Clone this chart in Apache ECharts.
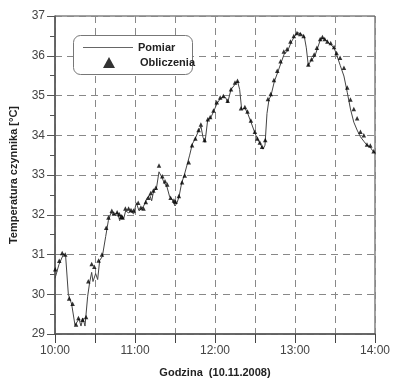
<!DOCTYPE html>
<html>
<head>
<meta charset="utf-8">
<script src="https://cdn.jsdelivr.net/npm/echarts@6/dist/echarts.min.js"></script>
<style>
  html, body { margin: 0; padding: 0; background: #fff; }
  #chart { width: 393px; height: 383px; }
</style>
</head>
<body>
<div id="chart"></div>
<script>
// minutes after 10:00
const pomiarT = [0, 3, 6.5, 8, 10, 12.5, 15, 16.5, 18, 19.5, 21, 22.5, 24.5, 26, 27.5, 28.5, 30.5, 32, 33.5, 35.5,
  38, 40, 42, 44, 45.5, 47, 48.5, 50, 51.5, 53, 55, 57, 59, 61, 63, 65, 67, 69, 71, 72.5,
  74, 76, 78, 80, 82, 84, 86, 88, 90, 91.5, 93, 95, 97, 99, 101, 103, 105, 107.5, 109.5, 111,
  112.5, 114.5, 116.5, 119, 121.5, 124, 126.3, 128, 129.5, 132, 135, 137, 138.5, 140, 142.5, 144.5, 147, 150, 152, 154,
  156, 157.5, 159, 160.5, 162, 164.5, 167, 169.5, 172, 174.5, 177, 179.5, 182, 184.5, 187, 188.5, 190, 191.5, 193, 195,
  197, 199, 201, 203, 205, 207, 209.5, 211.5, 214, 216.7, 219.2, 221.6, 224.1, 226.6, 229.1, 231.6, 234, 236.5, 238, 240];
const pomiarV = [30.40, 30.75, 31.02, 30.95, 30.00, 29.75, 29.22, 29.20, 29.38, 29.20, 29.40, 29.20, 29.95, 30.30, 30.55, 30.32, 30.52, 30.37, 30.85, 30.95,
  31.45, 31.85, 32.05, 32.00, 31.95, 32.05, 31.85, 32.00, 31.90, 32.10, 32.05, 32.08, 32.02, 32.30, 32.10, 32.15, 32.25, 32.42, 32.50, 32.35,
  32.60, 32.65, 33.08, 32.95, 32.80, 32.70, 32.45, 32.38, 32.22, 32.30, 32.45, 32.80, 33.00, 33.25, 33.50, 33.78, 33.90, 34.10, 34.22, 33.95,
  33.82, 34.38, 34.42, 34.60, 34.80, 34.92, 34.97, 34.95, 34.82, 35.15, 35.28, 35.35, 35.15, 34.65, 34.68, 34.55, 34.33, 34.05, 33.90, 33.78,
  33.65, 33.75, 34.55, 34.90, 35.00, 35.35, 35.58, 35.82, 36.05, 36.12, 36.33, 36.48, 36.58, 36.55, 36.48, 36.20, 35.75, 35.85, 35.90, 36.00,
  36.20, 36.40, 36.45, 36.40, 36.33, 36.28, 36.18, 36.00, 35.75, 35.49, 35.08, 34.66, 34.33, 34.13, 33.96, 33.85, 33.75, 33.70, 33.62, 33.55];

const oblT = [0.2, 3.2, 5.4, 7.7, 10.6, 13.2, 15.8, 17.6, 20.6, 23.3, 25.0, 27.5, 29.5, 32.7, 35.2, 38.4, 40.1, 42.6, 44.1, 46.6,
  48.3, 49.6, 50.7, 52.8, 55.2, 57.0, 58.9, 62.4, 64.4, 66.4, 68.1, 70.1, 71.8, 73.8, 75.6, 78.0, 80.5, 82.5, 84.2, 86.7,
  89.2, 90.4, 92.9, 95.3, 97.3, 100.3, 102.8, 105.3, 107.7, 109.4, 112.2, 114.6, 116.4, 118.9, 121.3, 123.9, 126.3, 129.5, 132.0, 135.0,
  136.9, 139.5, 142.4, 144.4, 146.9, 149.9, 151.8, 153.6, 155.3, 157.7, 159.7, 161.8, 164.2, 166.7, 169.2, 171.6, 174.1, 176.6, 179.1, 181.5,
  184.0, 186.5, 190.0, 192.4, 194.4, 196.4, 198.9, 200.6, 202.3, 204.3, 206.8, 209.3, 211.2, 213.8, 216.7, 219.2, 221.6, 224.1, 226.6, 229.1,
  231.6, 234.0, 236.5, 239.0];
const oblV = [30.63, 30.84, 31.04, 31.00, 29.89, 29.76, 29.24, 29.40, 29.36, 29.43, 30.33, 30.76, 30.69, 30.85, 31.00, 31.67, 31.93, 32.10, 32.03, 32.06,
  32.01, 31.95, 31.93, 32.16, 32.16, 32.12, 32.11, 32.30, 32.18, 32.16, 32.32, 32.43, 32.55, 32.61, 32.68, 33.24, 32.97, 32.84, 32.76, 32.43,
  32.36, 32.33, 32.47, 32.82, 32.99, 33.32, 33.75, 33.92, 34.13, 34.27, 33.88, 34.40, 34.46, 34.62, 34.83, 34.95, 34.99, 34.87, 35.16, 35.33,
  35.37, 34.68, 34.71, 34.60, 34.37, 34.09, 33.92, 33.82, 33.71, 33.88, 34.91, 35.04, 35.39, 35.62, 35.86, 36.11, 36.17, 36.36, 36.50, 36.57,
  36.55, 36.50, 35.78, 35.91, 36.03, 36.20, 36.42, 36.47, 36.42, 36.36, 36.32, 36.22, 36.07, 35.95, 35.70, 35.20, 34.90, 34.66, 34.43, 34.09,
  34.00, 33.77, 33.74, 33.60];

const pomiar = pomiarT.map((t, i) => [t, pomiarV[i]]);
const obliczenia = oblT.map((t, i) => [t, oblV[i]]);

const font = 'Liberation Sans';
const chart = echarts.init(document.getElementById('chart'));

chart.setOption({
  animation: false,
  backgroundColor: '#fff',
  textStyle: { fontFamily: font },
  grid: { left: 55, right: 15, top: 16, bottom: 45, show: true, borderColor: '#444', borderWidth: 1 },
  graphic: [{
    type: 'rect', left: 73, top: 35, z: 5,
    shape: { width: 119, height: 39, r: 7 },
    style: { fill: '#fff', stroke: '#777', lineWidth: 1 }
  }],
  legend: [{
    data: [{ name: 'Pomiar', icon: 'rect' }], left: 78, top: 36, z: 10,
    itemWidth: 50, itemHeight: 1, itemGap: 5,
    textStyle: { fontFamily: font, fontSize: 11, fontWeight: 'bold', color: '#222', lineHeight: 13 }
  }, {
    data: [{ name: 'Obliczenia', icon: 'triangle' }], left: 98, top: 52, z: 10,
    itemWidth: 12, itemHeight: 11,
    textStyle: { fontFamily: font, fontSize: 11, fontWeight: 'bold', color: '#222', padding: [0, 0, 0, 20] }
  }],
  xAxis: {
    type: 'value', min: 0, max: 240, interval: 30,
    name: 'Godzina  (10.11.2008)', nameLocation: 'middle', nameGap: 33,
    nameTextStyle: { fontFamily: font, fontSize: 11, fontWeight: 'bold', color: '#222' },
    axisLine: { lineStyle: { color: '#555', width: 1.5 } },
    axisTick: { length: 9, lineStyle: { color: '#444' } },
    axisLabel: {
      margin: 11, fontSize: 12, color: '#444',
      formatter: v => v % 60 === 0 ? (10 + v / 60) + ':00' : ''
    },
    splitLine: { lineStyle: { color: '#888', type: [7, 5], width: 1 } }
  },
  yAxis: {
    type: 'value', min: 29, max: 37, interval: 1,
    name: 'Temperatura czynnika [°C]', nameLocation: 'middle', nameGap: 36,
    nameTextStyle: { fontFamily: font, fontSize: 11, fontWeight: 'bold', color: '#222' },
    axisLine: { show: true, lineStyle: { color: '#555', width: 1.5 } },
    axisTick: { show: true, length: 8, lineStyle: { color: '#555' } },
    minorTick: { show: true, splitNumber: 2, length: 5, lineStyle: { color: '#555' } },
    axisLabel: { margin: 10, fontSize: 12, color: '#444' },
    splitLine: { lineStyle: { color: '#888', type: [7, 5], width: 1 } }
  },
  series: [{
    name: 'Pomiar', type: 'line', data: pomiar, symbol: 'none',
    lineStyle: { color: '#444', width: 1 }, itemStyle: { color: '#666' }, z: 3
  }, {
    name: 'Obliczenia', type: 'scatter', data: obliczenia, symbol: 'triangle', symbolSize: 4.5,
    itemStyle: { color: '#000' }, z: 4
  }]
});
</script>
</body>
</html>
